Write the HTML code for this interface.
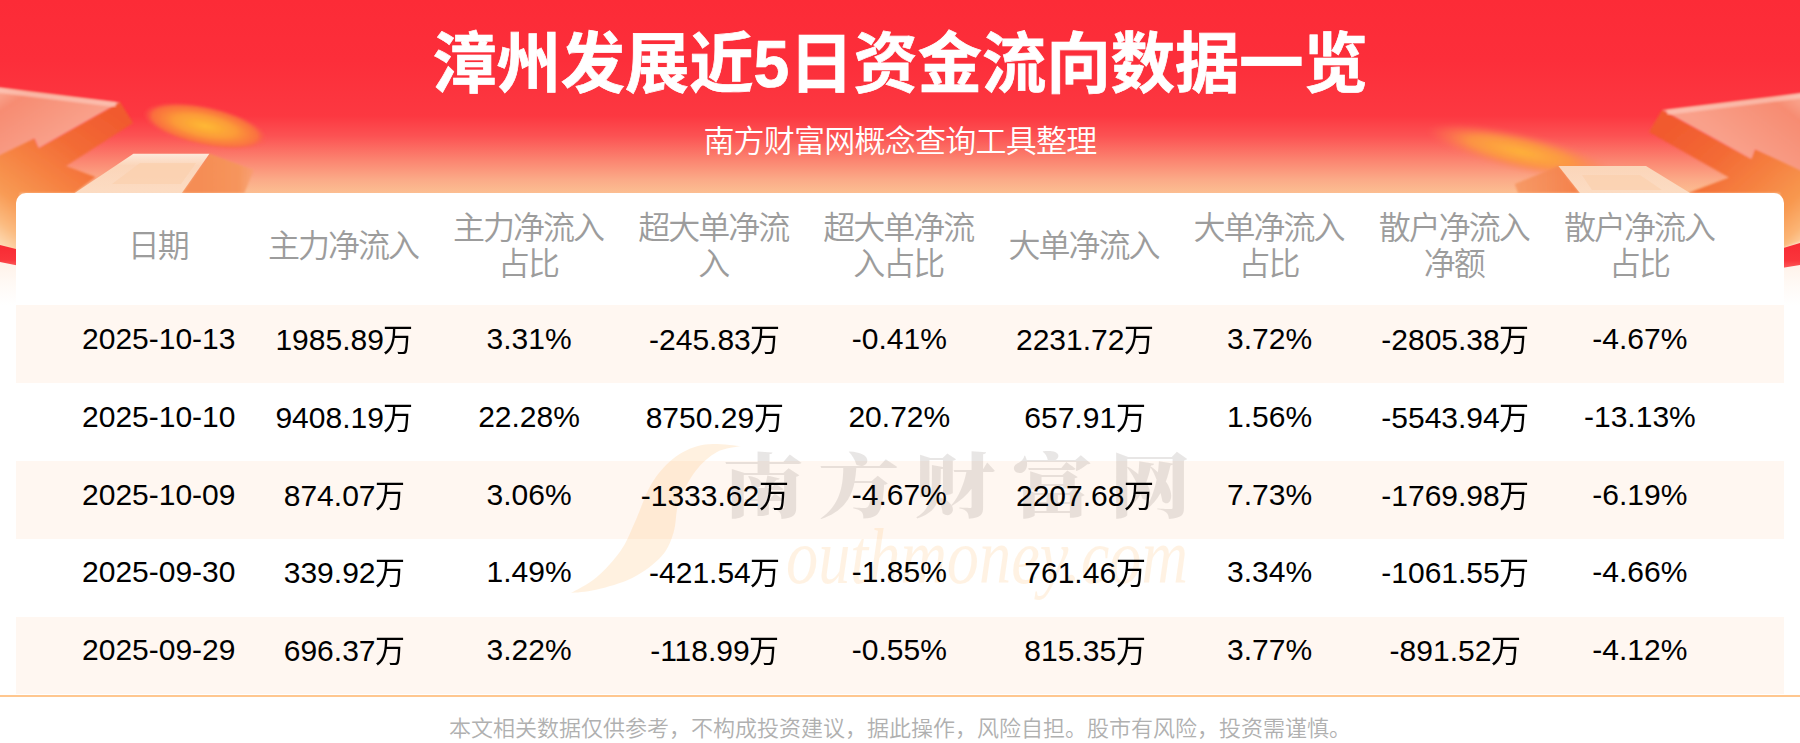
<!DOCTYPE html>
<html lang="zh-CN">
<head>
<meta charset="utf-8">
<title>漳州发展近5日资金流向数据一览</title>
<style>
html,body{margin:0;padding:0;}
body{width:1800px;height:743px;position:relative;overflow:hidden;background:#fff;
  font-family:"Liberation Sans","Noto Sans CJK SC",sans-serif;}
.hdr{position:absolute;left:0;top:0;width:1800px;height:320px;
  background:linear-gradient(180deg,#fc2b37 0px,#fc2e3a 60px,#fc3841 116px,#fc5253 136px,#fb8470 160px,#fbab88 180px,#fcc193 195px,#fdd3ac 225px,#fee2c8 245px,#fff2e9 264px,#fffaf6 285px,#ffffff 305px);}
.hdr svg{position:absolute;left:0;top:0;}
h1{position:absolute;left:0;top:0;width:1800px;margin:0;text-align:center;color:#fff;
  font-size:64px;line-height:124px;font-weight:700;letter-spacing:0;white-space:nowrap;-webkit-text-stroke:0.7px #fff;transform:translateY(2px) scale(1.004,1.03);transform-origin:900px 59px;}
.sub{position:absolute;left:0;top:121px;width:1800px;margin:0;text-align:center;color:#fff;
  font-size:31px;line-height:42px;font-weight:350;white-space:nowrap;letter-spacing:-0.75px;}
.card{position:absolute;left:16px;top:193px;width:1768px;height:501px;background:#fff;
  border-radius:10px 10px 0 0;overflow:hidden;}
.row{position:absolute;left:0;width:1768px;height:77.75px;display:flex;padding:0 0 0 50.2px;box-sizing:border-box;}
.stripe{position:absolute;left:0;width:1768px;height:78px;background:#fff7f1;}
.row div{width:185.15px;flex:none;text-align:center;font-size:30px;line-height:68px;color:#000;white-space:nowrap;}
.row i{font-style:normal;font-size:31.5px;position:relative;top:1px;margin-left:-0.5px;margin-right:-2.5px;display:inline-block;transform:scaleX(.95);transform-origin:left center;}
.head{position:absolute;left:0;top:0;width:1768px;height:112px;display:flex;padding:0 0 0 50.2px;box-sizing:border-box;}
.head div{width:185.15px;flex:none;display:flex;align-items:center;justify-content:center;text-align:center;
  font-size:32px;line-height:36px;color:#9c9c9c;font-weight:350;height:106px;padding:0 17px 0 15px;box-sizing:border-box;letter-spacing:-2px;}
.line{position:absolute;left:0;top:695px;width:1800px;height:2px;background:#ffc78f;}
.foot{position:absolute;left:0;top:712px;width:1800px;margin:0;text-align:center;color:#b0b0b0;
  font-size:22px;line-height:34px;white-space:nowrap;font-weight:350;}
.wm{position:absolute;left:0;top:0;width:1800px;height:743px;pointer-events:none;z-index:1;}
.row div{position:relative;z-index:2;}
</style>
</head>
<body>
<div class="hdr">
<svg width="1800" height="320" viewBox="0 0 1800 320">
<defs>
  <linearGradient id="gSideL" x1="110" y1="112" x2="10" y2="250" gradientUnits="userSpaceOnUse">
    <stop offset="0" stop-color="#f15a2e"/><stop offset="0.3" stop-color="#f36c36"/><stop offset="0.55" stop-color="#f68544"/><stop offset="0.75" stop-color="#f89a54"/><stop offset="0.9" stop-color="#fbbb80"/><stop offset="1" stop-color="#fdd8b0"/>
  </linearGradient>
  <linearGradient id="gSideR" x1="1680" y1="120" x2="1795" y2="250" gradientUnits="userSpaceOnUse">
    <stop offset="0" stop-color="#f15a2e"/><stop offset="0.3" stop-color="#f36a35"/><stop offset="0.55" stop-color="#f58040"/><stop offset="0.78" stop-color="#f8984f"/><stop offset="0.92" stop-color="#fbb474"/><stop offset="1" stop-color="#fdd0a2"/>
  </linearGradient>
  <linearGradient id="gTopL" x1="0" y1="90" x2="40" y2="150" gradientUnits="userSpaceOnUse">
    <stop offset="0" stop-color="#faa892"/><stop offset="0.25" stop-color="#f78c72"/><stop offset="1" stop-color="#f9a08a"/>
  </linearGradient>
  <linearGradient id="gTopR" x1="1800" y1="95" x2="1750" y2="160" gradientUnits="userSpaceOnUse">
    <stop offset="0" stop-color="#faa892"/><stop offset="0.25" stop-color="#f78c72"/><stop offset="1" stop-color="#f9a08a"/>
  </linearGradient>
  <linearGradient id="gBlkTop" x1="0" y1="154" x2="0" y2="193" gradientUnits="userSpaceOnUse">
    <stop offset="0" stop-color="#fde9da"/><stop offset="0.3" stop-color="#fbd5b9"/><stop offset="1" stop-color="#fcdcc3"/>
  </linearGradient>
  <linearGradient id="gBlkSideL" x1="200" y1="0" x2="255" y2="0" gradientUnits="userSpaceOnUse">
    <stop offset="0" stop-color="#f58d55"/><stop offset="0.7" stop-color="#f6955c"/><stop offset="1" stop-color="#f89f6c" stop-opacity="0.6"/>
  </linearGradient>
  <linearGradient id="gBlkSideR" x1="1515" y1="0" x2="1580" y2="0" gradientUnits="userSpaceOnUse">
    <stop offset="0" stop-color="#f69560" stop-opacity="0.85"/><stop offset="1" stop-color="#f4804a"/>
  </linearGradient>
  <radialGradient id="gCoin" cx="0.5" cy="0.5" r="0.5">
    <stop offset="0" stop-color="#feb934"/><stop offset="0.5" stop-color="#fc9a38" stop-opacity="1"/><stop offset="0.85" stop-color="#fa763c" stop-opacity="0.85"/><stop offset="1" stop-color="#fb5a4a" stop-opacity="0"/>
  </radialGradient>
  <radialGradient id="gStreak" cx="0.5" cy="0.5" r="0.5">
    <stop offset="0" stop-color="#feb23a"/><stop offset="0.55" stop-color="#fc9642" stop-opacity="0.95"/><stop offset="1" stop-color="#fb7a55" stop-opacity="0"/>
  </radialGradient>
  <linearGradient id="gRib" x1="0" y1="0" x2="0" y2="1">
    <stop offset="0" stop-color="#f82a33"/><stop offset="0.7" stop-color="#fa353b"/><stop offset="1" stop-color="#fc5a5a"/>
  </linearGradient>
  <filter id="b2" x="-20%" y="-20%" width="140%" height="140%"><feGaussianBlur stdDeviation="2"/></filter>
  <filter id="b1" x="-20%" y="-20%" width="140%" height="140%"><feGaussianBlur stdDeviation="0.8"/></filter>
  <filter id="b3" x="-20%" y="-50%" width="140%" height="200%"><feGaussianBlur stdDeviation="3"/></filter>
</defs>
<!-- left big arrow : side / body -->
<polygon points="-10,150 34,138 39,148 120,102 133,123 66,166 95.5,177 74.5,193 20,193 20,252 -10,242" fill="url(#gSideL)" filter="url(#b1)"/>
<!-- left arrow top face -->
<polygon points="-10,86 120,102.4 38.7,148 34.4,138.5 -10,160" fill="url(#gTopL)" filter="url(#b1)"/>
<polyline points="-5,90 116,104.8" fill="none" stroke="#fdd0c4" stroke-width="5" opacity="0.6" filter="url(#b1)"/>
<!-- left ribbon -->
<polygon points="0,245 20,250 20,266 0,262" fill="url(#gRib)"/>
<!-- left small block -->
<polygon points="209.4,153.8 253.8,170 244.4,193 181.8,193" fill="url(#gBlkSideL)" filter="url(#b1)"/>
<polygon points="133.4,153.8 209.4,153.8 181.8,193 74.8,193" fill="url(#gBlkTop)"/>
<polygon points="140,163 196,163 181,184 112,184" fill="#fbd0ae" opacity="0.7"/>
<!-- left coin -->
<g transform="translate(205,126) rotate(12)"><ellipse cx="0" cy="0" rx="63" ry="20" fill="url(#gCoin)" filter="url(#b1)"/></g>

<!-- right big arrow side/body -->
<polygon points="1810,170 1755,149 1751,159 1662,110 1649,132 1729,177.4 1688,193 1780,193 1780,249 1810,238" fill="url(#gSideR)" filter="url(#b1)"/>
<!-- right arrow top face -->
<polygon points="1810,92 1662,110 1751.4,158.8 1755,149.2 1810,175" fill="url(#gTopR)" filter="url(#b1)"/>
<polyline points="1805,95.5 1667,112.5" fill="none" stroke="#fdd0c4" stroke-width="5" opacity="0.6" filter="url(#b1)"/>
<!-- right ribbon -->
<polygon points="1780,249 1800,243 1800,265 1780,268.3" fill="url(#gRib)"/>
<!-- right streak -->
<g transform="translate(1521,152) rotate(13)"><ellipse cx="0" cy="0" rx="96" ry="19" fill="url(#gStreak)" filter="url(#b2)"/></g>
<!-- right small block -->
<polygon points="1558.4,166 1514.7,184 1518,193 1580,193" fill="url(#gBlkSideR)" filter="url(#b1)"/>
<polygon points="1558.4,166 1646,166 1690,193 1580,193" fill="url(#gBlkTop)"/>
<polygon points="1582,175 1640,175 1662,190 1592,190" fill="#fbd0ae" opacity="0.7"/>
</svg>
</div>
<h1>漳州发展近5日资金流向数据一览</h1>
<p class="sub">南方财富网概念查询工具整理</p>
<div class="card">
  <div class="head">
    <div>日期</div><div>主力净流入</div><div>主力净流入占比</div><div>超大单净流入</div><div>超大单净流入占比</div><div>大单净流入</div><div>大单净流入占比</div><div>散户净流入净额</div><div>散户净流入占比</div>
  </div>
  <div class="stripe" style="top:112px"></div><div class="stripe" style="top:268px"></div><div class="stripe" style="top:424px;height:77px"></div>
  <div class="row odd" style="top:112px"><div>2025-10-13</div><div>1985.89<i>万</i></div><div>3.31%</div><div>-245.83<i>万</i></div><div>-0.41%</div><div>2231.72<i>万</i></div><div>3.72%</div><div>-2805.38<i>万</i></div><div>-4.67%</div></div>
  <div class="row" style="top:189.75px"><div>2025-10-10</div><div>9408.19<i>万</i></div><div>22.28%</div><div>8750.29<i>万</i></div><div>20.72%</div><div>657.91<i>万</i></div><div>1.56%</div><div>-5543.94<i>万</i></div><div>-13.13%</div></div>
  <div class="row odd" style="top:267.5px"><div>2025-10-09</div><div>874.07<i>万</i></div><div>3.06%</div><div>-1333.62<i>万</i></div><div>-4.67%</div><div>2207.68<i>万</i></div><div>7.73%</div><div>-1769.98<i>万</i></div><div>-6.19%</div></div>
  <div class="row" style="top:345.25px"><div>2025-09-30</div><div>339.92<i>万</i></div><div>1.49%</div><div>-421.54<i>万</i></div><div>-1.85%</div><div>761.46<i>万</i></div><div>3.34%</div><div>-1061.55<i>万</i></div><div>-4.66%</div></div>
  <div class="row odd" style="top:423px"><div>2025-09-29</div><div>696.37<i>万</i></div><div>3.22%</div><div>-118.99<i>万</i></div><div>-0.55%</div><div>815.35<i>万</i></div><div>3.77%</div><div>-891.52<i>万</i></div><div>-4.12%</div></div>
</div>
<svg class="wm" width="1800" height="743" viewBox="0 0 1800 743">
  <path d="M741.0,446.0 C735.0,445.8 715.8,442.7 705.0,444.5 C694.2,446.3 684.8,450.2 676.0,456.6 C667.2,463.0 658.8,472.1 652.0,483.0 C645.2,493.9 640.2,510.7 635.0,522.0 C629.8,533.3 627.0,541.7 620.5,551.0 C614.0,560.3 604.2,570.7 596.0,577.7 C587.8,584.7 575.2,590.5 571.0,593.0  C575.2,592.5 585.7,592.3 596.0,589.8 C606.3,587.2 621.8,583.3 632.7,577.7 C643.7,572.1 654.9,563.7 661.7,556.0 C668.6,548.3 671.0,540.6 673.8,531.7 C676.6,522.8 675.1,512.7 678.7,502.6 C682.3,492.5 689.2,479.4 695.6,471.0 C702.0,462.6 709.4,456.2 717.0,452.0 C724.6,447.8 737.0,447.0 741.0,446.0 Z" fill="#ffb45a" opacity="0.19"/>
  <g transform="translate(0,0) scale(1.16,1)" fill="#5e4e46" opacity="0.135" font-family="'Noto Serif CJK SC','Noto Sans CJK SC',serif" font-weight="900" font-size="70">
    <text x="623 705.5 788 872 956.5" y="512">南方财富网</text>
  </g>
  <text x="786" y="583" font-family="'Liberation Serif',serif" font-style="italic" font-size="78" fill="#ffb45a" opacity="0.16" textLength="402" lengthAdjust="spacingAndGlyphs">outhmoney.com</text>
</svg>
<div class="line"></div>
<p class="foot">本文相关数据仅供参考，不构成投资建议，据此操作，风险自担。股市有风险，投资需谨慎。</p>
</body>
</html>
